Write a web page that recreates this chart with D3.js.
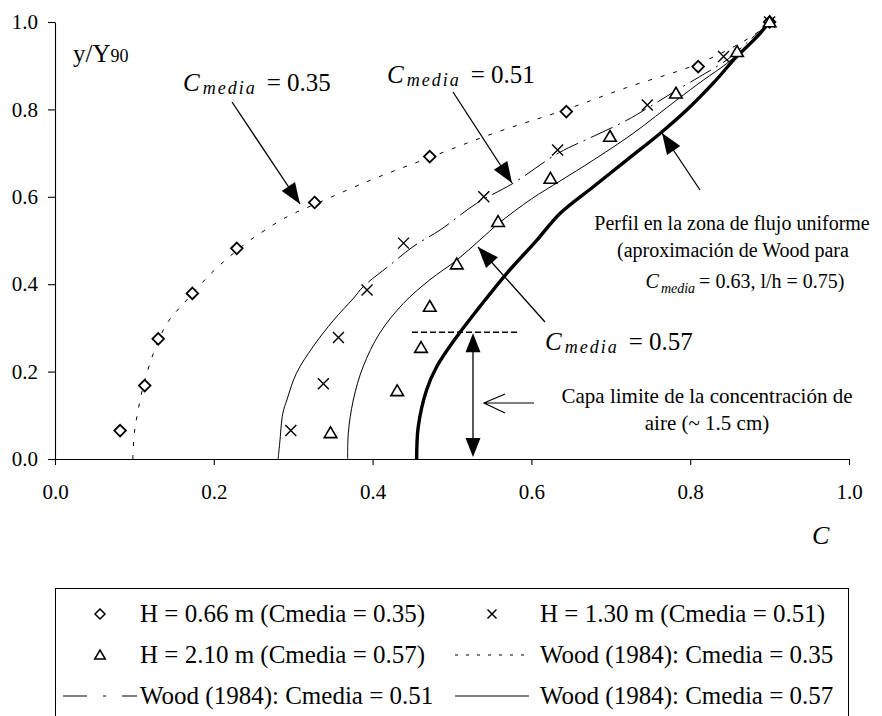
<!DOCTYPE html>
<html>
<head>
<meta charset="utf-8">
<script src="https://cdn.jsdelivr.net/npm/d3@7"></script>
<style>
  html, body { margin: 0; padding: 0; background: #fff; }
  svg { display: block; font-family: "Liberation Serif", "Times New Roman", serif; }
</style>
</head>
<body>
<svg id="chart" width="882" height="716"></svg>
<script>
// Air concentration profiles: measured points and Wood (1984) curves
const tickValues = [0.0, 0.2, 0.4, 0.6, 0.8, 1.0];

// H = 0.66 m (Cmedia = 0.35)
const diamondC = [0.082, 0.113, 0.130, 0.173, 0.229, 0.327, 0.472, 0.644, 0.810, 0.900];
const diamondY = [0.065, 0.168, 0.275, 0.379, 0.482, 0.587, 0.692, 0.795, 0.898, 1.000];
// H = 1.30 m (Cmedia = 0.51)
const crossC = [0.297, 0.338, 0.357, 0.393, 0.439, 0.540, 0.633, 0.746, 0.842, 0.900];
const crossY = [0.065, 0.172, 0.278, 0.387, 0.494, 0.600, 0.707, 0.810, 0.921, 1.000];
// H = 2.10 m (Cmedia = 0.57)
const triC = [0.347, 0.431, 0.461, 0.472, 0.506, 0.558, 0.624, 0.699, 0.782, 0.859, 0.900];
const triY = [0.060, 0.156, 0.255, 0.349, 0.446, 0.543, 0.642, 0.738, 0.837, 0.932, 1.000];

// Wood (1984) profiles
const wood035C = [0.098, 0.100, 0.104, 0.111, 0.124, 0.141, 0.166, 0.199, 0.225, 0.246, 0.292, 0.330, 0.400, 0.472, 0.552, 0.644, 0.720, 0.812, 0.880, 0.900];
const wood035Y = [0.000, 0.060, 0.105, 0.165, 0.242, 0.310, 0.364, 0.429, 0.471, 0.501, 0.554, 0.585, 0.640, 0.690, 0.745, 0.800, 0.850, 0.906, 0.970, 1.000];

const wood051C = [0.281, 0.283, 0.287, 0.292, 0.304, 0.325, 0.351, 0.376, 0.388, 0.422, 0.451, 0.485, 0.531, 0.577, 0.634, 0.680, 0.720, 0.749, 0.783, 0.812, 0.846, 0.871, 0.900];
const wood051Y = [0.000, 0.036, 0.105, 0.135, 0.196, 0.257, 0.318, 0.368, 0.394, 0.444, 0.486, 0.524, 0.585, 0.631, 0.700, 0.740, 0.775, 0.806, 0.844, 0.875, 0.913, 0.952, 1.000];

const wood057C = [0.3686, 0.3694, 0.3757, 0.388, 0.409, 0.4387, 0.472, 0.506, 0.535, 0.560, 0.600, 0.636, 0.678, 0.728, 0.783, 0.8165, 0.846, 0.875, 0.900];
const wood057Y = [0.000, 0.059, 0.135, 0.211, 0.288, 0.356, 0.410, 0.455, 0.501, 0.541, 0.595, 0.636, 0.684, 0.745, 0.8215, 0.867, 0.905, 0.952, 1.000];

// Uniform-flow profile (Wood approximation, Cmedia = 0.63, l/h = 0.75)
const uniformC = [0.4555, 0.4575, 0.468, 0.4807, 0.506, 0.535, 0.569, 0.607, 0.636, 0.678, 0.720, 0.762, 0.7956, 0.829, 0.8585, 0.884, 0.900];
const uniformY = [0.000, 0.074, 0.158, 0.211, 0.280, 0.3486, 0.425, 0.501, 0.562, 0.623, 0.684, 0.745, 0.7986, 0.860, 0.9206, 0.966, 1.000];

// Boundary layer marker height (y/Y90)
const boundaryY = 0.29;

const legendLabels = [
  "H = 0.66 m (Cmedia = 0.35)", "H = 1.30 m (Cmedia = 0.51)",
  "H = 2.10 m (Cmedia = 0.57)", "Wood (1984): Cmedia = 0.35",
  "Wood (1984): Cmedia = 0.51", "Wood (1984): Cmedia = 0.57"
];
const legendKinds = ["diamond", "cross", "triangle", "dot", "dashdot", "solid"];

const zip = (a, b) => a.map((v, i) => [v, b[i]]);

const svg = d3.select("#chart");
svg.append("rect").attr("width", 882).attr("height", 716).attr("fill", "#fff");

const x = d3.scaleLinear().domain([0, 1]).range([55, 849]);
const y = d3.scaleLinear().domain([0, 1]).range([459, 22]);

// axes
const xAxis = svg.append("g").attr("transform", `translate(0,${y(0)})`)
  .call(d3.axisBottom(x).tickValues(tickValues).tickFormat(d3.format(".1f"))
    .tickSize(6).tickSizeOuter(0).tickPadding(19));
const yAxis = svg.append("g").attr("transform", `translate(${x(0)},0)`)
  .call(d3.axisLeft(y).tickValues(tickValues).tickFormat(d3.format(".1f"))
    .tickSize(7).tickSizeOuter(0).tickPadding(10));
[xAxis, yAxis].forEach(g => {
  g.selectAll("path, line").attr("stroke", "#000").attr("stroke-width", 1.1);
  g.selectAll("text").attr("font-family", "Liberation Serif").attr("font-size", 21).attr("fill", "#000");
});

// axis titles
const yt = svg.append("text").attr("x", 73).attr("y", 62).attr("font-size", 25);
yt.append("tspan").text("y/Y");
yt.append("tspan").attr("font-size", 18).text("90");
svg.append("text").attr("x", 812).attr("y", 544).attr("font-size", 26)
  .attr("font-style", "italic").text("C");

// curves
const line = d3.line().x(d => x(d[0])).y(d => y(d[1])).curve(d3.curveCatmullRom.alpha(0.5));
function curve(cs, ys, width, dash) {
  return svg.append("path").attr("d", line(zip(cs, ys)))
    .attr("fill", "none").attr("stroke", "#000").attr("stroke-width", width)
    .attr("stroke-dasharray", dash || null);
}
curve(wood035C, wood035Y, 1, "4,9");
// long dash-dot: the steep lower stretch is drawn as one unbroken dash
const w051 = curve(wood051C, wood051Y, 1, null);
{
  const pts = zip(wood051C, wood051Y);
  const cut = pts.findIndex(p => p[1] >= 0.39);
  const tmp = svg.append("path").attr("d", line(pts.slice(0, cut + 1)));
  const solidLen = tmp.node().getTotalLength();
  tmp.remove();
  const total = w051.node().getTotalLength();
  const pattern = [solidLen, 7];
  let run = solidLen + 7;
  while (run < total + 40) { pattern.push(24, 6, 2, 6); run += 38; }
  w051.attr("stroke-dasharray", pattern.join(","));
}
curve(wood057C, wood057Y, 1, null);
curve(uniformC, uniformY, 3.4, null);

// markers
const diamondPath = s => `M0,${-s}L${s},0L0,${s}L${-s},0Z`;
const crossPath = s => `M${-s},${-s}L${s},${s}M${-s},${s}L${s},${-s}`;
const triPath = s => `M0,${-s}L${s * 1.05},${s * 0.8}L${-s * 1.05},${s * 0.8}Z`;

function markers(cs, ys, pathFn, size, width) {
  svg.append("g").selectAll("path").data(zip(cs, ys)).join("path")
    .attr("transform", d => `translate(${x(d[0])},${y(d[1])})`)
    .attr("d", pathFn(size))
    .attr("fill", "#fff").attr("stroke", "#000").attr("stroke-width", width);
}
markers(diamondC, diamondY, diamondPath, 5.8, 1.8);
markers(crossC, crossY, crossPath, 5.5, 1.4);
markers(triC, triY, triPath, 6, 1.6);

// arrows
function arrowHead(x1, y1, x2, y2, len, half) {
  const a = Math.atan2(y2 - y1, x2 - x1);
  const bx = x2 - len * Math.cos(a), by = y2 - len * Math.sin(a);
  const px = -Math.sin(a) * half, py = Math.cos(a) * half;
  return `M${x2},${y2}L${bx + px},${by + py}L${bx - px},${by - py}Z`;
}
function arrow(x1, y1, x2, y2) {
  svg.append("line").attr("x1", x1).attr("y1", y1).attr("x2", x2).attr("y2", y2)
    .attr("stroke", "#000").attr("stroke-width", 1.3);
  svg.append("path").attr("d", arrowHead(x1, y1, x2, y2, 21, 8)).attr("fill", "#000");
}
arrow(232, 102, 300, 204);
arrow(453, 92, 512, 183);
arrow(545, 322, 478, 247);
arrow(700, 190, 662, 133);

// boundary layer: dashed level, double arrow, open pointer
svg.append("line").attr("x1", 412).attr("x2", 520).attr("y1", y(boundaryY)).attr("y2", y(boundaryY))
  .attr("stroke", "#000").attr("stroke-width", 1.3).attr("stroke-dasharray", "6,3");
const ax = 473;
svg.append("line").attr("x1", ax).attr("x2", ax).attr("y1", y(boundaryY) + 4).attr("y2", y(0) - 4)
  .attr("stroke", "#000").attr("stroke-width", 1.3);
svg.append("path").attr("d", arrowHead(ax, y(0), ax, y(boundaryY) + 1, 19, 7.5)).attr("fill", "#000");
svg.append("path").attr("d", arrowHead(ax, y(boundaryY), ax, y(0) - 2, 19, 7.5)).attr("fill", "#000");
svg.append("path").attr("d", "M534,403H484M505,394L484,403L505,413")
  .attr("fill", "none").attr("stroke", "#000").attr("stroke-width", 1.2);

// C_media labels
function cLabel(px, py, value) {
  const t = svg.append("text").attr("x", px).attr("y", py).attr("font-size", 25);
  t.append("tspan").attr("font-style", "italic").text("C");
  t.append("tspan").attr("font-style", "italic").attr("font-size", 18)
    .attr("letter-spacing", 2).attr("dx", 3).attr("dy", 3).text("media");
  t.append("tspan").attr("dx", 10).attr("dy", -3).text("= " + value);
}
cLabel(183, 91, "0.35");
cLabel(387, 83, "0.51");
cLabel(545, 350, "0.57");

// uniform-flow note
const note = svg.append("g").attr("font-size", 20).attr("text-anchor", "middle");
note.append("text").attr("x", 732).attr("y", 230).text("Perfil en la zona de flujo uniforme");
note.append("text").attr("x", 733).attr("y", 257).text("(aproximación de Wood para");
const n3 = note.append("text").attr("x", 745).attr("y", 288);
n3.append("tspan").attr("font-style", "italic").text("C");
n3.append("tspan").attr("font-style", "italic").attr("font-size", 14).attr("dx", 2).attr("dy", 5).text("media");
n3.append("tspan").attr("dx", 4).attr("dy", -5).text("= 0.63, l/h = 0.75)");

const cap = svg.append("g").attr("font-size", 21).attr("text-anchor", "middle");
cap.append("text").attr("x", 707).attr("y", 403).text("Capa limite de la concentración de");
cap.append("text").attr("x", 707).attr("y", 430).text("aire (~ 1.5 cm)");

// legend
const lg = svg.append("g");
lg.append("rect").attr("x", 55.5).attr("y", 588.5).attr("width", 793).attr("height", 160)
  .attr("fill", "#fff").attr("stroke", "#000").attr("stroke-width", 1);
const rowY = [614, 655, 696];
const colSym = [100, 492];
const colText = [140, 540];
legendLabels.forEach((label, i) => {
  const r = Math.floor(i / 2), c = i % 2;
  const cy = rowY[r], cx = colSym[c];
  const k = legendKinds[i];
  if (k === "diamond" || k === "cross" || k === "triangle") {
    const fn = k === "diamond" ? diamondPath : k === "cross" ? crossPath : triPath;
    lg.append("path").attr("transform", `translate(${cx},${cy})`)
      .attr("d", fn(k === "cross" ? 4.5 : 5)).attr("fill", "#fff")
      .attr("stroke", "#000").attr("stroke-width", 1.5);
  } else {
    const dash = k === "dot" ? "3,8" : k === "dashdot" ? "24,16,3,16" : null;
    lg.append("line").attr("x1", cx - 37).attr("x2", cx + 37).attr("y1", cy).attr("y2", cy)
      .attr("stroke", "#000").attr("stroke-width", 1).attr("stroke-dasharray", dash);
  }
  lg.append("text").attr("x", colText[c]).attr("y", cy + 8).attr("font-size", 25).text(label);
});
</script>
</body>
</html>
